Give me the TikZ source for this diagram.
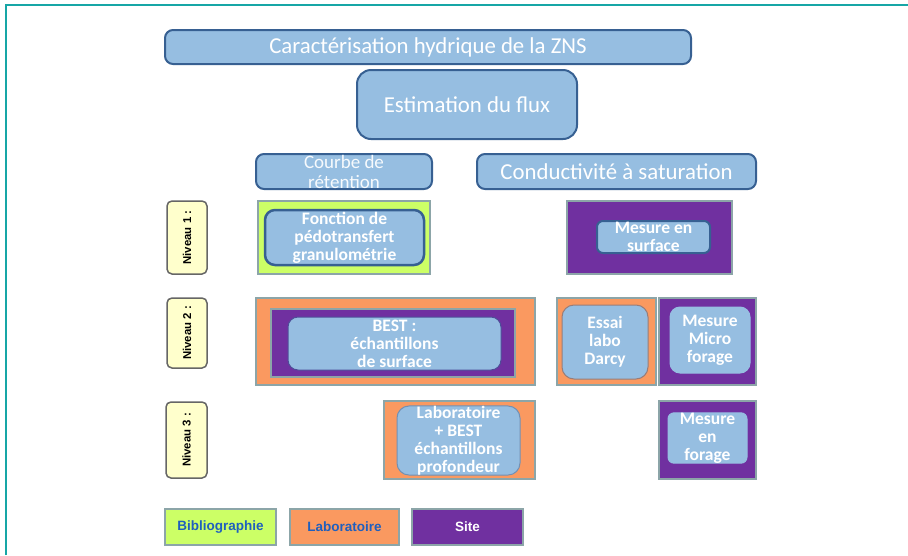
\documentclass[tikz,border=0pt]{standalone}
\usepackage{fontspec}
\setmainfont{Carlito}
\newfontfamily\arialfont{Liberation Sans}
\begin{document}
\begin{tikzpicture}[x=1pt,y=-1pt,
  bluebox/.style={draw=darkblue,fill=lightblue,line width=2pt,rounded corners=8pt,
    text=white,align=center,inner sep=0pt},
  bigtext/.style={font=\fontsize{22.8}{26}\selectfont},
  boldtext/.style={font=\bfseries\fontsize{17.5}{18}\selectfont},
  kindbox/.style={draw=frameteal,line width=2pt,inner sep=0pt},
  levelbox/.style={draw=gray!80!black,fill=paleyellow,line width=1.5pt,rounded corners=5pt,
    rotate=90,inner sep=0pt,font=\arialfont\bfseries\fontsize{11.4}{13}\selectfont},
  legendbox/.style={kindbox,font=\arialfont\bfseries\fontsize{13.5}{15}\selectfont}]
\definecolor{lightblue}{RGB}{150,190,225}
\definecolor{darkblue}{RGB}{55,96,146}
\definecolor{limegreen}{RGB}{204,255,102}
\definecolor{labo}{RGB}{250,153,96}
\definecolor{site}{RGB}{112,48,160}
\definecolor{frameteal}{RGB}{140,165,168}
\definecolor{paleyellow}{RGB}{255,255,204}
\definecolor{border}{RGB}{23,166,166}
\definecolor{legendtext}{RGB}{31,95,190}
\useasboundingbox (0,0) rectangle (908,555);
% cadre
\draw[border,line width=2pt] (6,555)--(6,5)--(908,5);
% titres
\node[bluebox,bigtext,minimum width=526,minimum height=34] (zns) at (428,47) {Caractérisation hydrique de la ZNS};
\node[bluebox,bigtext,rounded corners=14pt,minimum width=220,minimum height=69] (flux) at (467,104.5) {Estimation du flux};
\node[bluebox,font=\fontsize{19}{20}\selectfont,text=white!92!lightblue,minimum width=176,minimum height=35] (courbe) at (344,171.5) {Courbe de\\rétention};
\node[bluebox,bigtext,minimum width=279,minimum height=35] (ksat) at (616.5,171.5) {Conductivité à saturation};
% niveaux
\node[levelbox,minimum width=73,minimum height=40] (niv1) at (187,237.5) {Niveau 1 :};
\node[levelbox,minimum width=70,minimum height=40] (niv2) at (187,333) {Niveau 2 :};
\node[levelbox,minimum width=76,minimum height=41] (niv3) at (186.5,440) {Niveau 3 :};
% niveau 1
\node[kindbox,fill=limegreen,minimum width=172,minimum height=73] (biblio1) at (344,237.5) {};
\node[bluebox,boldtext,line width=2.5pt,rounded corners=10pt,minimum width=159,minimum height=55] (pedo) at (344.5,237.5) {Fonction de\\pédotransfert\\granulométrie};
\node[kindbox,fill=site,minimum width=165,minimum height=73] (site1) at (649.5,237.5) {};
\node[bluebox,boldtext,rounded corners=6pt,minimum width=113,minimum height=32] (surf) at (653.5,237) {Mesure en\\surface};
% niveau 2
\node[kindbox,fill=labo,minimum width=279,minimum height=87] (labo2) at (395.5,341.5) {};
\node[kindbox,fill=site,minimum width=244,minimum height=68] (site2) at (393,343) {};
\node[bluebox,boldtext,draw=darkblue!60!site,line width=1pt,rounded corners=10pt,minimum width=213,minimum height=53] (best) at (394.5,343.5) {BEST :\\échantillons\\de surface};
\node[kindbox,fill=labo,minimum width=99,minimum height=87] (labo3) at (606.5,341.5) {};
\node[bluebox,boldtext,draw=labo!50!darkblue,line width=1pt,rounded corners=12pt,minimum width=86,minimum height=74] (darcy) at (605,342) {Essai\\labo\\Darcy};
\node[kindbox,fill=site,minimum width=97,minimum height=87] (site3) at (707.5,341.5) {};
\node[bluebox,boldtext,draw=lightblue,line width=1pt,rounded corners=10pt,minimum width=80,minimum height=66] (micro) at (710,340) {Mesure\\Micro\\forage};
% niveau 3
\node[kindbox,fill=labo,minimum width=151,minimum height=78] (labo4) at (459.5,440) {};
\node[bluebox,boldtext,draw=darkblue!70,line width=1pt,rounded corners=12pt,minimum width=123,minimum height=67] (prof) at (458.5,440.5) {Laboratoire\\+ BEST\\échantillons\\profondeur};
\node[kindbox,fill=site,minimum width=97,minimum height=78] (site4) at (707.5,440) {};
\node[bluebox,boldtext,draw=lightblue,line width=1pt,rounded corners=6pt,minimum width=79,minimum height=50] (forage) at (707.5,438) {Mesure\\en\\forage};
% legende
\node[legendbox,fill=limegreen,text=legendtext,minimum width=111,minimum height=36] (legbib) at (220.5,527) {Bibliographie};
\node[legendbox,fill=labo,text=legendtext,minimum width=109,minimum height=36] (leglab) at (344.5,527) {Laboratoire};
\node[legendbox,fill=site,text=white,minimum width=111,minimum height=36] (legsite) at (467.5,527) {Site};
\end{tikzpicture}
\end{document}
